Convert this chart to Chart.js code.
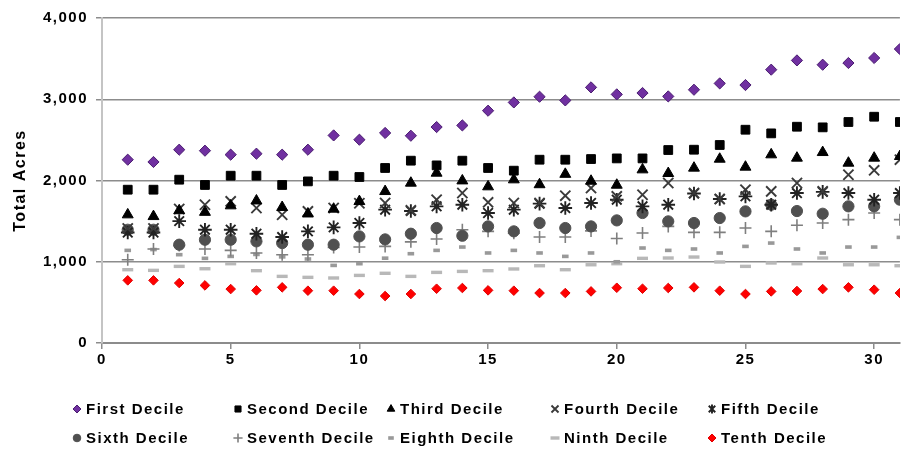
<!DOCTYPE html>
<html><head><meta charset="utf-8">
<script src="https://cdn.jsdelivr.net/npm/chart.js@4/dist/chart.umd.min.js"></script>
<style>html,body{margin:0;padding:0;background:#fff;overflow:hidden}</style>
</head><body>
<canvas id="c" width="909" height="451" style="display:block;width:909px;height:451px"></canvas>
<script>
const years = [1,2,3,4,5,6,7,8,9,10,11,12,13,14,15,16,17,18,19,20,21,22,23,24,25,26,27,28,29,30,31];
const seriesNames = ["First Decile","Second Decile","Third Decile","Fourth Decile","Fifth Decile","Sixth Decile","Seventh Decile","Eighth Decile","Ninth Decile","Tenth Decile"];
const first   = [2256,2228,2379,2367,2318,2330,2318,2379,2555,2502,2585,2551,2658,2678,2859,2961,3031,2986,3146,3060,3077,3035,3117,3195,3175,3364,3478,3425,3446,3508,3618];
const second  = [1887,1887,2010,1945,2059,2059,1945,1989,2059,2043,2154,2244,2186,2244,2154,2121,2256,2256,2264,2272,2272,2375,2379,2437,2625,2580,2662,2654,2720,2785,2720];
const third   = [1579,1558,1630,1610,1690,1750,1670,1590,1649,1743,1866,1969,2092,1997,1924,2010,1950,2078,1993,1944,2133,2088,2154,2264,2166,2318,2277,2346,2215,2277,2297];
const fourth  = [1410,1410,1650,1702,1743,1661,1579,1620,1661,1720,1723,1633,1764,1846,1731,1723,1723,1813,1907,1805,1825,1969,1846,1772,1887,1866,1969,1866,2071,2125,2256];
const fifth   = [1360,1360,1500,1394,1394,1345,1304,1374,1423,1477,1641,1625,1682,1702,1600,1641,1715,1661,1723,1764,1682,1702,1840,1772,1805,1702,1846,1860,1846,1764,1846];
const sixth   = [1394,1394,1210,1271,1271,1251,1230,1210,1210,1312,1275,1345,1415,1320,1435,1374,1477,1415,1435,1509,1600,1497,1477,1538,1620,1702,1624,1591,1682,1682,1764];
const seventh = [1025,1157,1200,1157,1140,1108,1087,1087,1175,1181,1189,1245,1280,1394,1374,1350,1304,1304,1380,1286,1354,1435,1362,1362,1415,1374,1450,1477,1518,1600,1518];
const eighth  = [1140,1150,1087,1042,1066,1090,1060,1034,955,976,1044,1099,1140,1181,1108,1140,1108,1066,1108,1000,1169,1140,1157,1108,1189,1230,1157,1108,1181,1181,1300];
const ninth   = [902,894,943,914,976,890,820,808,800,832,858,820,869,881,890,911,951,902,963,976,1042,1046,1058,997,943,985,976,1046,963,963,951];
const tenth   = [771,771,738,709,664,648,685,644,644,603,578,603,668,677,648,644,615,615,635,680,668,677,685,644,603,635,640,664,685,656,615];
const yTicks  = [0,1000,2000,3000,4000];
const xTicks  = [0,5,10,15,20,25,30];

const allSeries = [first,second,third,fourth,fifth,sixth,seventh,eighth,ninth,tenth];
const styles = [
  {pointStyle:'rectRot', radius:5.6, fill:'#7030a0', stroke:'#4a1d70', bw:1,   lr:4},
  {pointStyle:'rect',    radius:6.2, fill:'#000',    stroke:'#000',    bw:1,   lr:4.3},
  {pointStyle:'triangle',radius:6.3, fill:'#000',    stroke:'#000',    bw:1,   lr:4.4},
  {pointStyle:'crossRot',radius:7.2, fill:'#3a3a3a', stroke:'#3a3a3a', bw:1.9, lr:5},
  {pointStyle:'star',    radius:6.8, fill:'#222',    stroke:'#222',    bw:1.9, lr:4.6},
  {pointStyle:'circle',  radius:5.6, fill:'#505050', stroke:'#505050', bw:1,   lr:3.8},
  {pointStyle:'cross',   radius:6,   fill:'#7f7f7f', stroke:'#7f7f7f', bw:1.6, lr:4.6},
  {pointStyle:'line',    radius:3.3, fill:'#999999', stroke:'#999999', bw:3.6, lr:2.8},
  {pointStyle:'line',    radius:5.5, fill:'#b8b8b8', stroke:'#b8b8b8', bw:3.4, lr:4.5},
  {pointStyle:'rectRot', radius:4.8, fill:'#ff0000', stroke:'#e00000', bw:1,   lr:4}
];
const legendColX = [77, 238, 391, 555, 712];
const legendRowY = [409, 438];

const datasets = allSeries.map((vals, i) => ({
  label: seriesNames[i],
  data: years.map((x, j) => ({x: x, y: vals[j]})),
  pointStyle: styles[i].pointStyle,
  pointRadius: styles[i].radius,
  pointBackgroundColor: styles[i].fill,
  pointBorderColor: styles[i].stroke,
  pointBorderWidth: styles[i].bw,
  showLine: false
}));

function drawMarker(ctx, st, x, y, r) {
  ctx.save();
  ctx.fillStyle = st.fill; ctx.strokeStyle = st.stroke; ctx.lineWidth = st.bw;
  ctx.beginPath();
  const s = st.pointStyle;
  if (s === 'rectRot') { ctx.moveTo(x - r, y); ctx.lineTo(x, y - r); ctx.lineTo(x + r, y); ctx.lineTo(x, y + r); ctx.closePath(); ctx.fill(); ctx.stroke(); }
  else if (s === 'rect') { const h = r * Math.SQRT1_2; ctx.rect(x - h, y - h, 2 * h, 2 * h); ctx.fill(); ctx.stroke(); }
  else if (s === 'triangle') { ctx.moveTo(x, y - r); ctx.lineTo(x + r * 0.866, y + r * 0.5); ctx.lineTo(x - r * 0.866, y + r * 0.5); ctx.closePath(); ctx.fill(); ctx.stroke(); }
  else if (s === 'circle') { ctx.arc(x, y, r, 0, Math.PI * 2); ctx.fill(); ctx.stroke(); }
  else if (s === 'cross') { ctx.moveTo(x - r, y); ctx.lineTo(x + r, y); ctx.moveTo(x, y - r); ctx.lineTo(x, y + r); ctx.stroke(); }
  else if (s === 'crossRot' || s === 'star') { const d = r * Math.SQRT1_2; ctx.moveTo(x - d, y - d); ctx.lineTo(x + d, y + d); ctx.moveTo(x + d, y - d); ctx.lineTo(x - d, y + d); if (s === 'star') { ctx.moveTo(x, y - r); ctx.lineTo(x, y + r); } ctx.stroke(); }
  else if (s === 'line') { ctx.moveTo(x - r, y); ctx.lineTo(x + r, y); ctx.stroke(); }
  ctx.restore();
}

const gridLegend = {
  id: 'gridLegend',
  beforeDraw(chart) { chart.ctx.letterSpacing = '1.5px'; },
  afterDraw(chart) {
    const ctx = chart.ctx;
    ctx.save();
    ctx.font = 'bold 15px "Liberation Sans", Arial, sans-serif';
    ctx.letterSpacing = '1.5px';
    ctx.textBaseline = 'middle';
    ctx.textAlign = 'left';
    seriesNames.forEach((name, i) => {
      const cx = legendColX[i % 5], cy = legendRowY[Math.floor(i / 5)];
      drawMarker(ctx, styles[i], cx, cy, styles[i].lr);
      ctx.fillStyle = '#000';
      ctx.fillText(name, cx + 9, cy + 1);
    });
    ctx.restore();
    ctx.letterSpacing = '0px';
  }
};

new Chart(document.getElementById('c'), {
  type: 'scatter',
  data: { datasets: datasets },
  plugins: [gridLegend],
  options: {
    responsive: false,
    animation: false,
    devicePixelRatio: 1,
    layout: { padding: { left: 0, right: 0, top: 18, bottom: 82 } },
    plugins: { legend: { display: false }, tooltip: { enabled: false } },
    scales: {
      x: {
        type: 'linear', min: 0, max: 31,
        afterFit(s) { s.height = 26; },
        afterBuildTicks(s) { s.ticks = xTicks.map(v => ({value: v})); },
        ticks: { stepSize: 5, includeBounds: false, padding: 2, color: '#000',
                 font: { family: '"Liberation Sans", Arial, sans-serif', size: 15, weight: 'bold' } },
        grid: { drawOnChartArea: false, drawTicks: true, tickLength: 6, color: '#8c8c8c', lineWidth: 1.5 },
        border: { display: true, color: '#8c8c8c', width: 2 }
      },
      y: {
        type: 'linear', min: 0, max: 4000,
        afterFit(s) { s.width = 102; },
        afterBuildTicks(s) { s.ticks = yTicks.map(v => ({value: v})); },
        ticks: { stepSize: 1000, padding: 8, color: '#000',
                 font: { family: '"Liberation Sans", Arial, sans-serif', size: 15, weight: 'bold' } },
        grid: { color: '#8c8c8c', lineWidth: 1.5, tickLength: 6 },
        border: { display: true, color: '#c4c4c4', width: 2 },
        title: { display: true, text: 'Total Acres', color: '#000', padding: { top: 11, bottom: 0 },
                 font: { family: '"Liberation Sans", Arial, sans-serif', size: 16, weight: 'bold' } }
      }
    }
  }
});
</script>
</body></html>
